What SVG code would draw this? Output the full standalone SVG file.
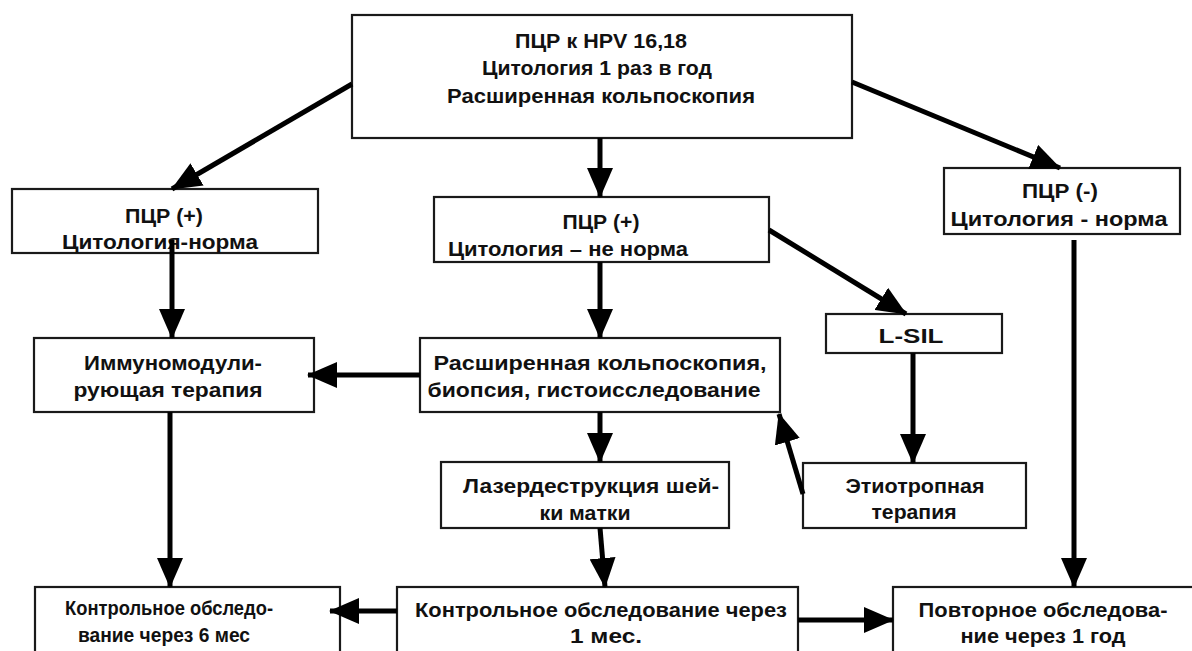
<svg xmlns="http://www.w3.org/2000/svg" width="1192" height="651" viewBox="0 0 1192 651">
<defs>
<marker id="ah" markerUnits="userSpaceOnUse" markerWidth="30" markerHeight="26" refX="29" refY="13" orient="auto">
<path d="M0,0 L30,13 L0,26 z" fill="#000"/>
</marker>
<style>
.box{fill:#fff;stroke:#1a1a1a;stroke-width:2.2}
.t{font-family:"Liberation Sans",Arial,sans-serif;font-weight:bold;font-size:20.5px;fill:#111;text-anchor:middle}
.ts{font-family:"Liberation Sans",Arial,sans-serif;font-weight:bold;font-size:20.5px;fill:#111;text-anchor:start}
.c{stroke:#000;stroke-width:5;fill:none;marker-end:url(#ah)}
</style>
</defs>
<rect width="1192" height="651" fill="#fff"/>
<g id="n-top">
<rect class="box" x="352" y="15" width="500" height="123"/>
<text class="t" x="601" y="48" textLength="172" lengthAdjust="spacingAndGlyphs">ПЦР к HPV 16,18</text>
<text class="t" x="597" y="75" textLength="230" lengthAdjust="spacingAndGlyphs">Цитология 1 раз в год</text>
<text class="t" x="601" y="103" textLength="308" lengthAdjust="spacingAndGlyphs">Расширенная кольпоскопия</text>
</g>
<g id="n-left">
<rect class="box" x="12" y="189" width="306" height="64"/>
<text class="t" x="164" y="223" textLength="78" lengthAdjust="spacingAndGlyphs">ПЦР (+)</text>
<text class="t" x="160" y="249" textLength="196" lengthAdjust="spacingAndGlyphs">Цитология-норма</text>
</g>
<g id="n-mid">
<rect class="box" x="434" y="197" width="335" height="65"/>
<text class="t" x="601" y="229" textLength="77" lengthAdjust="spacingAndGlyphs">ПЦР (+)</text>
<text class="ts" x="448" y="256" textLength="240" lengthAdjust="spacingAndGlyphs">Цитология – не норма</text>
</g>
<g id="n-right">
<rect class="box" x="944" y="168" width="236" height="66"/>
<text class="t" x="1060" y="198" textLength="76" lengthAdjust="spacingAndGlyphs">ПЦР (-)</text>
<text class="t" x="1059" y="226" textLength="217" lengthAdjust="spacingAndGlyphs">Цитология - норма</text>
</g>
<g id="n-lsil">
<rect class="box" x="826" y="314" width="176" height="39"/>
<text class="t" x="911" y="343" textLength="65" lengthAdjust="spacingAndGlyphs">L-SIL</text>
</g>
<g id="n-immuno">
<rect class="box" x="34" y="338" width="280" height="74"/>
<text class="t" x="173" y="370" textLength="178" lengthAdjust="spacingAndGlyphs">Иммуномодули-</text>
<text class="t" x="168" y="397" textLength="189" lengthAdjust="spacingAndGlyphs">рующая терапия</text>
</g>
<g id="n-colpo">
<rect class="box" x="420" y="338" width="360" height="74"/>
<text class="t" x="600" y="370" textLength="333" lengthAdjust="spacingAndGlyphs">Расширенная кольпоскопия,</text>
<text class="t" x="594" y="397" textLength="333" lengthAdjust="spacingAndGlyphs">биопсия, гистоисследование</text>
</g>
<g id="n-laser">
<rect class="box" x="441" y="462" width="288" height="66"/>
<text class="t" x="591" y="493" textLength="256" lengthAdjust="spacingAndGlyphs">Лазердеструкция шей-</text>
<text class="t" x="585" y="520" textLength="91" lengthAdjust="spacingAndGlyphs">ки матки</text>
</g>
<g id="n-etio">
<rect class="box" x="803" y="463" width="223" height="65"/>
<text class="t" x="915" y="493" textLength="139" lengthAdjust="spacingAndGlyphs">Этиотропная</text>
<text class="t" x="914" y="519" textLength="85" lengthAdjust="spacingAndGlyphs">терапия</text>
</g>
<g id="n-ctrl6">
<rect class="box" x="35" y="587" width="305" height="70"/>
<text class="t" x="169" y="615" textLength="208" lengthAdjust="spacingAndGlyphs">Контрольное обследо-</text>
<text class="t" x="164" y="642" textLength="172" lengthAdjust="spacingAndGlyphs">вание через 6 мес</text>
</g>
<g id="n-ctrl1">
<rect class="box" x="397" y="587" width="401" height="70"/>
<text class="t" x="601" y="617" textLength="372" lengthAdjust="spacingAndGlyphs">Контрольное обследование через</text>
<text class="t" x="606" y="643" textLength="72" lengthAdjust="spacingAndGlyphs">1 мес.</text>
</g>
<g id="n-repeat">
<rect class="box" x="893" y="587" width="310" height="70"/>
<text class="t" x="1043" y="617" textLength="249" lengthAdjust="spacingAndGlyphs">Повторное обследова-</text>
<text class="t" x="1043" y="643" textLength="165" lengthAdjust="spacingAndGlyphs">ние через 1 год</text>
</g>
<g id="connectors">
<line class="c" x1="352" y1="84" x2="172" y2="189"/>
<line class="c" x1="600" y1="138" x2="600" y2="197"/>
<line class="c" x1="852" y1="82" x2="1060" y2="168"/>
<line class="c" x1="172" y1="240" x2="172" y2="338"/>
<line class="c" x1="600" y1="262" x2="600" y2="338"/>
<line class="c" x1="769" y1="230" x2="906" y2="314"/>
<line class="c" x1="1074" y1="240" x2="1074" y2="587"/>
<line class="c" x1="913" y1="353" x2="913" y2="463"/>
<line class="c" x1="803" y1="494" x2="779" y2="414"/>
<line class="c" x1="420" y1="375" x2="308" y2="375"/>
<line class="c" x1="600" y1="412" x2="600" y2="462"/>
<line class="c" x1="170" y1="412" x2="170" y2="587"/>
<line class="c" x1="600" y1="528" x2="605" y2="587"/>
<line class="c" x1="397" y1="611" x2="330" y2="611"/>
<line class="c" x1="798" y1="620" x2="893" y2="620"/>
</g>
</svg>
